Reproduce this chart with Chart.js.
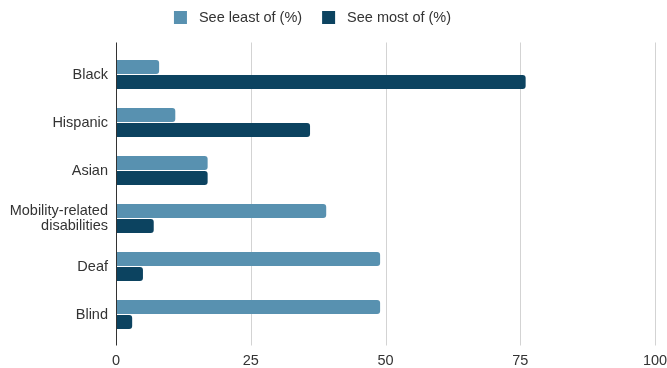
<!DOCTYPE html>
<html>
<head>
<meta charset="utf-8">
<script src="https://cdn.jsdelivr.net/npm/chart.js@4/dist/chart.umd.min.js"></script>
<style>
  html, body { margin: 0; padding: 0; background: #fff; }
  #wrap { width: 667px; height: 368px; position: relative; }
</style>
</head>
<body>
<div id="wrap"><canvas id="chart"></canvas></div>
<script>
const categories = ['Black', 'Hispanic', 'Asian', ['Mobility-related', 'disabilities'], 'Deaf', 'Blind'];
const seeLeast = [8, 11, 17, 39, 49, 49];
const seeMost = [76, 36, 17, 7, 5, 3];
const seriesNames = ['See least of (%)', 'See most of (%)'];
const seriesColors = ['#5891b0', '#0c4360'];

const FONT = "'Liberation Sans', Arial, sans-serif";
const TEXT = '#333333';

// grid lines + axis line run a bit past the category bands, like the original
const gridPlugin = {
  id: 'extGrid',
  beforeDatasetsDraw(chart) {
    const { ctx, chartArea: a, scales: { x } } = chart;
    ctx.save();
    ctx.strokeStyle = '#d3d3d3';
    ctx.lineWidth = 1;
    x.ticks.forEach(t => {
      if (t.value === 0) return;
      const px = Math.round(x.getPixelForValue(t.value)) + 0.5;
      ctx.beginPath();
      ctx.moveTo(px, a.top - 8);
      ctx.lineTo(px, a.bottom + 7);
      ctx.stroke();
    });
    ctx.restore();
  },
  afterDatasetsDraw(chart) {
    const { ctx, chartArea: a, scales: { x } } = chart;
    const px = Math.round(x.getPixelForValue(0)) + 0.5;
    ctx.save();
    ctx.strokeStyle = '#333';
    ctx.lineWidth = 1;
    ctx.beginPath();
    ctx.moveTo(px, a.top - 8);
    ctx.lineTo(px, a.bottom + 7);
    ctx.stroke();
    ctx.restore();
  }
};

// legend drawn by hand so the box/text spacing matches
const legendPlugin = {
  id: 'topLegend',
  afterDraw(chart) {
    const { ctx } = chart;
    const ds = chart.data.datasets;
    ctx.save();
    ctx.font = '14.5px ' + FONT;
    ctx.textBaseline = 'middle';
    const box = 13, gap = 12, between = 20;
    const widths = ds.map(d => ctx.measureText(d.label).width);
    const total = widths.reduce((s, w) => s + box + gap + w, 0) + between * (ds.length - 1);
    let x = 312.5 - total / 2;
    const y = 17.5;
    ds.forEach((d, i) => {
      ctx.fillStyle = d.backgroundColor;
      ctx.fillRect(x, y - box / 2, box, box);
      x += box + gap;
      ctx.fillStyle = TEXT;
      ctx.fillText(d.label, x, y + 0.5);
      x += widths[i] + between;
    });
    ctx.restore();
  }
};

new Chart(document.getElementById('chart'), {
  type: 'bar',
  data: {
    labels: categories,
    datasets: [
      { label: seriesNames[0], data: seeLeast, backgroundColor: seriesColors[0] },
      { label: seriesNames[1], data: seeMost, backgroundColor: seriesColors[1] }
    ]
  },
  options: {
    indexAxis: 'y',
    responsive: true,
    maintainAspectRatio: false,
    animation: false,
    layout: { padding: { top: 50.5, bottom: 0, left: 0, right: 12 } },
    datasets: { bar: { categoryPercentage: 0.625, barPercentage: 0.93, borderRadius: 3 } },
    plugins: { legend: { display: false }, tooltip: { enabled: false } },
    scales: {
      x: {
        min: 0, max: 100,
        ticks: { stepSize: 25, color: TEXT, font: { family: FONT, size: 14.5 }, padding: 14, maxRotation: 0 },
        grid: { display: false, drawTicks: false },
        border: { display: false },
        afterFit(scale) {
          scale.height = 29.5;
          scale.paddingLeft = 0; scale.paddingRight = 0;
        }
      },
      y: {
        ticks: { color: TEXT, font: { family: FONT, size: 14.5, lineHeight: 1.1 }, padding: 8 },
        grid: { display: false, drawTicks: false },
        border: { display: false },
        afterFit(scale) {
          scale.width = 116;
          scale.paddingTop = 0; scale.paddingBottom = 0;
        }
      }
    }
  },
  plugins: [gridPlugin, legendPlugin]
});
</script>
</body>
</html>
